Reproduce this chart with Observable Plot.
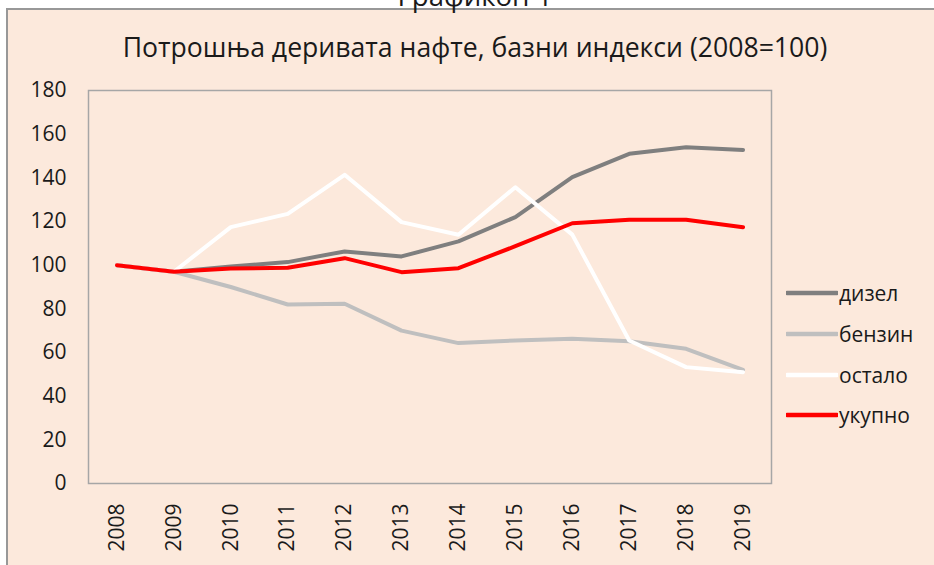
<!DOCTYPE html>
<html><head><meta charset="utf-8">
<script src="https://cdn.jsdelivr.net/npm/d3@7"></script>
<script src="https://cdn.jsdelivr.net/npm/@observablehq/plot@0.6"></script>
<style>
body{margin:0;background:#fff;width:934px;height:565px;overflow:hidden;position:relative;font-family:"Open Sans",sans-serif;}
#bg{position:absolute;left:0;top:0;}
#chart{position:absolute;left:0;top:0;}
#legend{position:absolute;left:786px;top:273px;font-size:21px;color:#1a1a1a;}
#legend .row{display:flex;align-items:center;height:40.7px;}
#legend svg{display:block;margin-right:1px;}
</style></head>
<body>
<svg id="bg" width="934" height="565"></svg>
<div id="chart"></div>
<div id="legend"></div>
<script>
const captionText = "Графикон 1";
const titleText = "Потрошња деривата нафте, базни индекси (2008=100)";
const years = ["2008","2009","2010","2011","2012","2013","2014","2015","2016","2017","2018","2019"];
const dizel  = [100, 97, 99.4, 101.4, 106.3, 104, 110.9, 122, 140.3, 151, 154, 152.8];
const benzin = [100, 97, 90, 82, 82.3, 70, 64.3, 65.5, 66.3, 65.2, 61.7, 52];
const ostalo = [100, 97, 117.4, 123.5, 141.4, 119.7, 113.9, 135.7, 114, 65.5, 53.3, 51];
const ukupno = [100, 97, 98.5, 98.8, 103.2, 96.8, 98.6, 108.7, 119.2, 120.8, 120.8, 117.4];
const seriesNames = ["дизел", "бензин", "остало", "укупно"];
const seriesValues = [dizel, benzin, ostalo, ukupno];
const seriesColors = ["#7f7f7f", "#bfbfbf", "#ffffff", "#ff0000"];
const yTicks = [0, 20, 40, 60, 80, 100, 120, 140, 160, 180];

const BG = "#fce9dc";
const ns = "http://www.w3.org/2000/svg";
const bg = document.getElementById("bg");
function el(tag, attrs, parent){const e=document.createElementNS(ns,tag);for(const k in attrs)e.setAttribute(k,attrs[k]);(parent||bg).appendChild(e);return e;}
el("rect",{x:7,y:9,width:1000,height:600,fill:BG,stroke:"#989898","stroke-width":2});
function fitText(txt, cx, baseline, targetW, fs){
  const t = el("text",{x:cx,y:baseline,"text-anchor":"middle","font-family":"Open Sans","font-size":fs,fill:"#1a1a1a"});
  t.textContent = txt;
  const w = t.getComputedTextLength();
  t.setAttribute("font-size", fs*targetW/w);
  return t;
}
fitText(captionText, 475, 6, 155, 20);
fitText(titleText, 475, 57, 705, 24);

const data = [];
seriesNames.forEach((s,k)=>years.forEach((yr,i)=>data.push({series:s, year:yr, value:seriesValues[k][i]})));

const chart = Plot.plot({
  width: 934, height: 565,
  marginLeft: 88, marginRight: 163, marginTop: 90, marginBottom: 82,
  style: {background:"transparent", fontFamily:"Open Sans", fontSize:"21px", color:"#1a1a1a"},
  x: {type:"point", domain: years, padding:0.5, round:false, label:null, tickRotate:-90, tickSize:0, tickPadding:20},
  y: {domain:[0,180], ticks:yTicks, label:null, tickSize:0, tickPadding:22},
  color: {domain: seriesNames, range: seriesColors},
  marks: [
    Plot.frame({stroke:"#a6a6a6", strokeWidth:1.5}),
    ...seriesNames.map(s => Plot.line(data.filter(d=>d.series===s), {x:"year", y:"value", stroke:"series", strokeWidth:4, strokeLinejoin:"round", strokeLinecap:"round"}))
  ]
});
document.getElementById("chart").appendChild(chart);

const legend = document.getElementById("legend");
seriesNames.forEach((s,k)=>{
  const row = document.createElement("div"); row.className="row";
  row.innerHTML = `<svg width="52" height="8"><line x1="1" y1="4" x2="51" y2="4" stroke="${seriesColors[k]}" stroke-width="4.5" stroke-linecap="round"/></svg><span>${s}</span>`;
  legend.appendChild(row);
});
</script>
</body></html>
